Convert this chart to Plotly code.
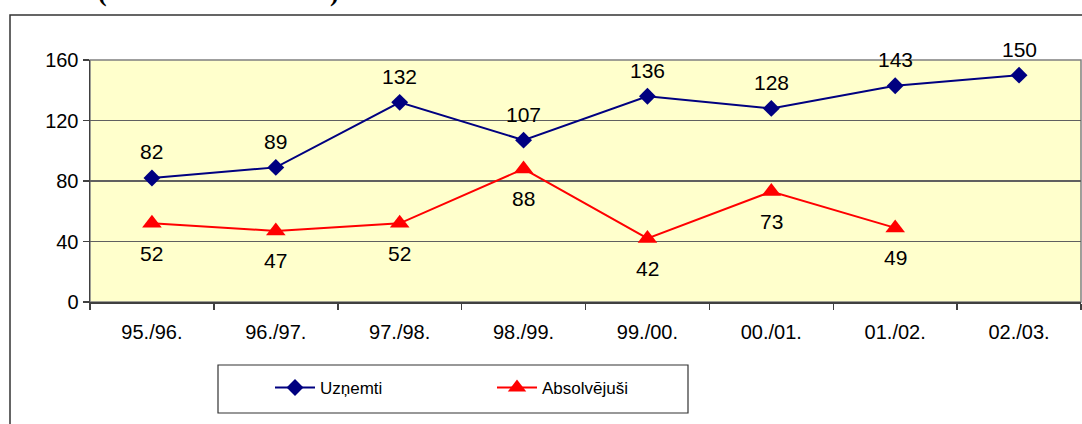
import plotly.graph_objects as go

categories = ["95./96.", "96./97.", "97./98.", "98./99.", "99./00.", "00./01.", "01./02.", "02./03."]
uznemti = [82, 89, 132, 107, 136, 128, 143, 150]
absolvejusi = [52, 47, 52, 88, 42, 73, 49, None]
y_ticks = [0, 40, 80, 120, 160]

W, H = 1082, 424
ML, MR, MT, MB = 90, 1, 60, 122
PW = W - ML - MR
PH = H - MT - MB


def px_x(p):
    return (p - ML) / PW


def px_y(p):
    return (H - MB - p) / PH


FONT = "Liberation Sans, Arial, sans-serif"
SERIF = "Liberation Serif, Times New Roman, serif"

fig = go.Figure()
fig.add_trace(go.Scatter(
    x=categories, y=uznemti, name="Uzņemti", mode="lines+markers",
    line=dict(color="#000080", width=2),
    marker=dict(symbol="diamond", size=13, color="#000080"),
    cliponaxis=False,
))
fig.add_trace(go.Scatter(
    x=categories, y=absolvejusi, name="Absolvējuši", mode="lines+markers",
    line=dict(color="#FF0000", width=2),
    marker=dict(symbol="triangle-up", size=17, color="#FF0000"),
    cliponaxis=False,
))

annotations = []
for cat, v in zip(categories, uznemti):
    annotations.append(dict(x=cat, y=v, xref="x", yref="y", text=str(v), showarrow=False,
                            xanchor="center", yanchor="middle", yshift=26,
                            font=dict(family=FONT, size=21, color="black")))
for cat, v in zip(categories, absolvejusi):
    if v is None:
        continue
    annotations.append(dict(x=cat, y=v, xref="x", yref="y", text=str(v), showarrow=False,
                            xanchor="center", yanchor="middle", yshift=-30,
                            font=dict(family=FONT, size=21, color="black")))

# cut-off title parentheses at the top edge
annotations += [
    dict(text="<b>(</b>", xref="paper", yref="paper", x=px_x(102), y=px_y(9),
         xanchor="center", yanchor="bottom", showarrow=False,
         font=dict(family=SERIF, size=26, color="black")),
    dict(text="<b>)</b>", xref="paper", yref="paper", x=px_x(334), y=px_y(9),
         xanchor="center", yanchor="bottom", showarrow=False,
         font=dict(family=SERIF, size=26, color="black")),
]

shapes = [
    dict(type="rect", xref="paper", yref="paper",
         x0=px_x(10), x1=px_x(1095), y0=px_y(440), y1=px_y(15),
         line=dict(color="#333333", width=1.5), fillcolor="rgba(0,0,0,0)", layer="below"),
    dict(type="rect", xref="paper", yref="paper", x0=0, x1=1, y0=0, y1=1,
         line=dict(color="#808080", width=1.5), fillcolor="rgba(0,0,0,0)", layer="below"),
    dict(type="rect", xref="paper", yref="paper",
         x0=px_x(218), x1=px_x(688), y0=px_y(413), y1=px_y(365),
         line=dict(color="#333333", width=1.2), fillcolor="white", layer="below"),
]

fig.update_layout(
    width=W, height=H,
    margin=dict(l=ML, r=MR, t=MT, b=MB, pad=0),
    paper_bgcolor="white",
    plot_bgcolor="#FFFFCC",
    font=dict(family=FONT, size=20, color="black"),
    showlegend=True,
    legend=dict(
        orientation="h", x=px_x(270), y=px_y(388), xanchor="left", yanchor="middle",
        bgcolor="rgba(0,0,0,0)", borderwidth=0,
        itemwidth=40, entrywidth=167, entrywidthmode="pixels",
        font=dict(family=FONT, size=17, color="black"),
        itemclick=False, itemdoubleclick=False,
    ),
    shapes=shapes,
    annotations=annotations,
    hovermode=False,
)
fig.update_xaxes(
    type="category", categoryorder="array", categoryarray=categories,
    range=[-0.5, len(categories) - 0.5],
    showgrid=False, zeroline=False,
    showline=True, linecolor="#404040", linewidth=1.5,
    ticks="outside", tickson="boundaries", ticklen=6, tickcolor="#404040", tickwidth=1.5,
    tickfont=dict(family=FONT, size=20, color="black"),
    ticklabelstandoff=11,
)
fig.update_yaxes(
    range=[0, 160], tickvals=y_ticks,
    showgrid=True, gridcolor="#606060", gridwidth=1.5,
    zeroline=False,
    showline=True, linecolor="#404040", linewidth=1.5,
    ticks="outside", ticklen=6, tickcolor="#404040", tickwidth=1.5,
    tickfont=dict(family=FONT, size=20, color="black"),
)

fig.write_html(
    "out.html",
    config={"displayModeBar": False, "staticPlot": True},
    post_script="document.body.style.margin='0';document.body.style.overflow='hidden';",
)
